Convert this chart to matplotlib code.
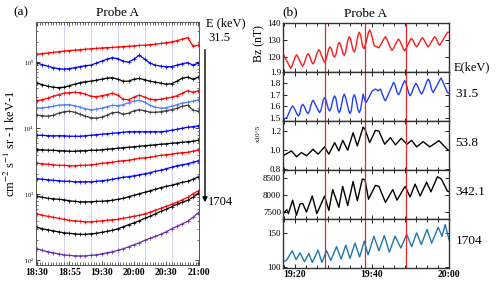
import matplotlib
matplotlib.use("Agg")
import matplotlib.pyplot as plt
import numpy as np
from matplotlib.ticker import MultipleLocator, FixedLocator, LogLocator, NullFormatter

plt.rcParams['font.family'] = ['Liberation Serif', 'DejaVu Serif']
plt.rcParams['mathtext.fontset'] = 'stix'

# ---------------- panel (a): fluxes, minutes after 18:30 ----------------
minutes_a = [0, 5, 10, 15, 20, 25, 30, 35, 40, 45, 50, 55, 60, 65, 70, 75,
             80, 85, 90, 95, 100, 105, 110, 115, 120, 125, 130, 135, 140, 145, 150]
a_tick_pos = [0, 30, 60, 90, 120, 150]
a_tick_lab = ['18:30', '18:55', '19:30', '20:00', '20:30', '21:00']
a_grid_pos = [25, 50, 75, 100, 125]

# log10 of flux for each energy channel (top = lowest energy)
log_flux = [
    [5.121, 5.130, 5.139, 5.148, 5.158, 5.167, 5.176, 5.182, 5.189, 5.197, 5.203,
     5.209, 5.215, 5.220, 5.224, 5.229, 5.235, 5.241, 5.247, 5.253, 5.258, 5.265,
     5.273, 5.283, 5.294, 5.306, 5.326, 5.348, 5.371, 5.242, 5.258],
    [4.985, 4.962, 4.939, 4.917, 4.902, 4.894, 4.902, 4.917, 4.932, 4.947, 4.955,
     4.985, 5.015, 5.045, 5.068, 5.053, 5.015, 5.000, 5.045, 5.106, 5.045, 4.985,
     4.955, 4.939, 4.932, 4.932, 4.955, 4.977, 4.992, 4.955, 4.985],
    [4.682, 4.659, 4.636, 4.621, 4.614, 4.621, 4.644, 4.667, 4.689, 4.705, 4.712,
     4.727, 4.742, 4.758, 4.765, 4.742, 4.712, 4.712, 4.742, 4.753, 4.735, 4.712,
     4.697, 4.682, 4.667, 4.674, 4.712, 4.758, 4.773, 4.742, 4.773],
    [4.417, 4.432, 4.455, 4.485, 4.508, 4.530, 4.538, 4.545, 4.538, 4.515, 4.485,
     4.477, 4.492, 4.508, 4.530, 4.500, 4.439, 4.432, 4.470, 4.500, 4.470, 4.439,
     4.432, 4.439, 4.455, 4.470, 4.492, 4.530, 4.568, 4.545, 4.568],
    [4.303, 4.311, 4.318, 4.333, 4.348, 4.356, 4.356, 4.341, 4.318, 4.295, 4.280,
     4.288, 4.303, 4.326, 4.348, 4.341, 4.356, 4.386, 4.409, 4.424, 4.394, 4.348,
     4.318, 4.303, 4.311, 4.333, 4.356, 4.379, 4.394, 4.409, 4.432],
    [4.197, 4.189, 4.182, 4.197, 4.227, 4.250, 4.258, 4.242, 4.212, 4.182, 4.159,
     4.152, 4.167, 4.197, 4.235, 4.242, 4.212, 4.227, 4.265, 4.280, 4.265, 4.242,
     4.242, 4.250, 4.265, 4.280, 4.303, 4.333, 4.348, 4.273, 4.258],
    [3.894, 3.894, 3.886, 3.886, 3.886, 3.886, 3.879, 3.879, 3.879, 3.886, 3.894,
     3.902, 3.909, 3.917, 3.924, 3.932, 3.939, 3.947, 3.947, 3.947, 3.947, 3.947,
     3.947, 3.947, 3.955, 3.970, 3.985, 4.000, 4.015, 4.023, 4.038],
    [3.674, 3.674, 3.667, 3.667, 3.659, 3.659, 3.652, 3.652, 3.659, 3.659, 3.667,
     3.667, 3.674, 3.682, 3.689, 3.697, 3.705, 3.712, 3.720, 3.727, 3.735, 3.742,
     3.750, 3.758, 3.765, 3.773, 3.780, 3.788, 3.795, 3.803, 3.818],
    [3.470, 3.462, 3.455, 3.447, 3.439, 3.439, 3.432, 3.432, 3.439, 3.439, 3.447,
     3.455, 3.470, 3.477, 3.485, 3.500, 3.508, 3.515, 3.530, 3.545, 3.553, 3.561,
     3.576, 3.591, 3.598, 3.606, 3.621, 3.629, 3.636, 3.652, 3.674],
    [3.235, 3.227, 3.220, 3.212, 3.205, 3.197, 3.197, 3.189, 3.189, 3.189, 3.189,
     3.197, 3.205, 3.212, 3.227, 3.242, 3.258, 3.265, 3.280, 3.295, 3.311, 3.326,
     3.348, 3.364, 3.386, 3.409, 3.432, 3.447, 3.462, 3.485, 3.508],
    [2.970, 2.955, 2.939, 2.932, 2.924, 2.917, 2.902, 2.894, 2.886, 2.886, 2.886,
     2.894, 2.894, 2.902, 2.909, 2.924, 2.939, 2.962, 2.985, 3.008, 3.030, 3.053,
     3.076, 3.099, 3.121, 3.136, 3.159, 3.182, 3.197, 3.227, 3.265],
    [2.705, 2.682, 2.667, 2.652, 2.636, 2.621, 2.606, 2.598, 2.591, 2.583, 2.583,
     2.591, 2.598, 2.606, 2.614, 2.621, 2.636, 2.652, 2.667, 2.682, 2.705, 2.727,
     2.758, 2.788, 2.818, 2.848, 2.879, 2.917, 2.955, 3.008, 3.053],
    [2.500, 2.477, 2.462, 2.447, 2.432, 2.417, 2.409, 2.402, 2.394, 2.394, 2.402,
     2.409, 2.424, 2.439, 2.455, 2.477, 2.508, 2.538, 2.568, 2.598, 2.636, 2.667,
     2.705, 2.742, 2.773, 2.811, 2.848, 2.879, 2.909, 2.955, 3.015],
    [2.174, 2.152, 2.129, 2.114, 2.098, 2.083, 2.076, 2.068, 2.068, 2.068, 2.076,
     2.083, 2.098, 2.114, 2.129, 2.152, 2.174, 2.205, 2.235, 2.265, 2.303, 2.333,
     2.364, 2.394, 2.432, 2.477, 2.515, 2.553, 2.591, 2.652, 2.720],
]
line_colors = ['#ff0000', '#0000ff', '#000000', '#ff0000', '#4f7dff', '#3c3c3c',
               '#0000ff', '#000000', '#ff0000', '#0000ff', '#000000', '#ff0000',
               '#000000', '#6a2bb0']

# ---------------- panel (b): minutes after 19:00 ----------------
t_bz = [16.9, 18.55, 18.9, 19.25, 20.05, 20.4, 20.75, 21.65, 22.0, 22.35, 23.05, 23.4,
        23.75, 24.35, 24.7, 25.05, 25.85, 26.2, 26.55, 27.35, 27.7, 28.05, 28.75, 29.1,
        29.45, 29.95, 30.3, 30.65, 31.15, 31.5, 31.85, 32.45, 32.8, 33.15, 33.75, 34.1,
        34.45, 35.05, 35.4, 35.75, 36.35, 36.7, 37.05, 37.55, 37.9, 38.25, 39.05, 39.4,
        39.75, 40.6, 41.8, 43.15, 43.5, 43.85, 44.85, 45.2, 45.55, 46.55, 46.9, 47.25,
        48.15, 48.5, 48.85, 49.85, 50.2, 50.55, 51.25, 51.6, 51.95, 52.75, 53.1, 53.45,
        54.25, 54.6, 54.95, 55.95, 56.3, 56.65, 57.25, 57.6, 57.95, 59.6, 60.0]
bz = [121.8, 114.7, 113.2, 114.6, 119.8, 121.2, 120.0, 115.6, 114.4, 115.7, 120.5, 121.8,
      120.8, 116.8, 115.8, 117.2, 122.8, 124.2, 123.0, 118.1, 116.8, 118.3, 124.4, 125.9,
      124.9, 120.8, 119.8, 121.3, 127.0, 128.5, 127.2, 122.1, 120.8, 122.7, 130.0, 131.9,
      130.4, 124.3, 122.8, 124.8, 132.5, 134.5, 132.9, 126.4, 124.8, 126.7, 134.0, 135.9,
      134.3, 126.5, 125.3, 130.8, 131.9, 130.5, 125.2, 123.8, 124.9, 129.4, 130.5, 129.3,
      124.7, 123.5, 124.8, 129.6, 130.9, 130.1, 126.8, 125.9, 126.8, 130.4, 131.3, 130.4,
      126.8, 125.9, 126.9, 130.9, 131.9, 131.1, 127.7, 126.9, 128.2, 134.5, 134.5]

t_31 = [16.9, 17.9, 19.05, 19.4, 19.75, 20.55, 20.9, 21.25, 21.65, 22.0, 22.35, 23.05,
        23.4, 23.75, 24.35, 24.7, 25.05, 26.05, 26.4, 26.75, 27.35, 27.7, 28.05, 28.65,
        29.0, 29.35, 29.95, 30.3, 30.65, 31.15, 31.5, 31.85, 32.45, 32.8, 33.15, 33.95,
        34.3, 34.65, 35.05, 35.4, 35.75, 36.35, 36.7, 37.05, 37.7, 38.2, 38.5, 40.1,
        40.9, 41.6, 42.2, 43.15, 43.5, 43.85, 45.25, 45.6, 45.95, 46.55, 46.9, 47.25,
        48.15, 48.5, 48.85, 49.55, 49.9, 50.25, 51.05, 51.4, 51.75, 52.55, 52.9, 53.25,
        54.25, 54.6, 54.95, 55.55, 55.9, 56.25, 57.55, 57.9, 58.25, 59.6, 60.0]
f31 = [1.484, 1.499, 1.587, 1.602, 1.587, 1.529, 1.514, 1.532, 1.600, 1.617, 1.603, 1.549,
       1.535, 1.555, 1.632, 1.652, 1.633, 1.562, 1.543, 1.566, 1.653, 1.676, 1.656, 1.578,
       1.558, 1.581, 1.668, 1.691, 1.666, 1.568, 1.543, 1.571, 1.678, 1.706, 1.677, 1.564,
       1.535, 1.563, 1.672, 1.700, 1.673, 1.570, 1.543, 1.571, 1.706, 1.647, 1.632, 1.735,
       1.750, 1.735, 1.750, 1.665, 1.647, 1.674, 1.781, 1.809, 1.790, 1.719, 1.700, 1.721,
       1.803, 1.824, 1.801, 1.714, 1.691, 1.710, 1.781, 1.800, 1.784, 1.722, 1.706, 1.728,
       1.816, 1.838, 1.818, 1.740, 1.720, 1.742, 1.825, 1.847, 1.825, 1.720, 1.715]

t_53 = [16.9, 19.1, 20.4, 21.7, 23.0, 24.7, 26.0, 27.7, 28.8, 30.3, 31.4, 32.4, 33.7,
        35.1, 36.2, 37.7, 38.2, 39.4, 40.9, 41.8, 43.3, 44.8, 46.1, 47.6, 49.1, 50.3,
        51.6, 53.3, 55.0, 57.4, 59.6, 60.0]
f53 = [0.934, 0.986, 0.924, 0.969, 0.934, 1.003, 0.951, 1.028, 0.951, 1.073, 0.986,
       1.097, 0.993, 1.177, 1.038, 1.236, 1.212, 1.073, 1.201, 1.194, 1.056, 1.125,
       1.049, 1.118, 1.056, 1.097, 1.028, 1.083, 1.028, 1.094, 1.000, 0.990]

t_342 = [16.9, 17.9, 18.3, 19.4, 20.4, 21.3, 22.0, 23.0, 24.5, 25.7, 27.7, 28.8, 29.8,
         31.4, 32.4, 33.7, 35.1, 36.2, 37.5, 38.2, 39.1, 40.9, 41.8, 43.5, 45.4, 46.5,
         48.6, 49.9, 51.2, 52.5, 54.2, 55.3, 57.0, 58.0, 59.6, 60.0]
f342 = [7457, 7569, 7457, 7850, 7410, 7738, 7756, 7503, 7972, 7457, 7972, 7550, 8159,
        7644, 8253, 7691, 8394, 7831, 8469, 8440, 7878, 8281, 8253, 7785, 8159, 7850,
        8253, 7944, 8319, 7972, 8375, 8094, 8534, 8469, 8112, 8100]

t_1704 = [16.9, 17.8, 19.3, 20.3, 21.3, 22.5, 23.6, 24.5, 26.0, 27.0, 28.2, 29.3, 30.8,
          32.0, 33.2, 34.3, 35.6, 36.8, 38.0, 39.0, 40.5, 41.8, 43.2, 44.5, 46.0, 47.5,
          49.0, 50.3, 51.6, 52.8, 54.3, 55.5, 57.2, 58.2, 59.0, 60.0]
f1704 = [108, 110, 124, 111, 121, 108, 120, 107, 125, 107, 124, 110, 130, 112, 132, 113,
         135, 115, 138, 118, 145, 124, 146, 122, 145, 128, 148, 130, 150, 133, 155, 135,
         158, 145, 162, 140]

event_times = [27.7, 38.2, 48.9]
b_series = [(t_bz, bz, '#ff1a1a', (111, 140), [120, 130, 140], '{:.0f}'),
            (t_31, f31, '#1f3fff', (1.47, 1.90), [1.5, 1.6, 1.7, 1.8, 1.9], '{:.1f}'),
            (t_53, f53, '#000000', (0.785, 1.30), [0.8, 1.0, 1.2], '{:.1f}'),
            (t_342, f342, '#000000', (7300, 8730), [7500, 8000, 8500], '{:.0f}'),
            (t_1704, f1704, '#2277aa', (99, 170), [100, 150], '{:.0f}')]
b_labels = ['', '31.5', '53.8', '342.1', '1704']

fig = plt.figure(figsize=(5, 2.84), dpi=100)

# ---- panel (a)
ax = fig.add_axes([0.072, 0.067, 0.326, 0.856])
for vals, c in zip(log_flux, line_colors):
    ax.plot(minutes_a, 10 ** np.array(vals), color=c, lw=0.9, marker='+',
            ms=2.2, mew=0.5)
for g in a_grid_pos:
    ax.axvline(g, color='#c9c9f2', lw=0.6, zorder=0)
ax.set_yscale('log')
ax.set_ylim(10 ** 1.93, 10 ** 5.61)
ax.set_xlim(-1, 150.5)
ax.set_xticks(a_tick_pos)
ax.set_xticklabels(a_tick_lab, fontsize=7, fontweight='bold')
ax.xaxis.set_minor_locator(MultipleLocator(2.5))
ax.yaxis.set_major_locator(LogLocator(base=10, numticks=10))
ax.yaxis.set_minor_locator(LogLocator(base=10, subs=np.arange(2, 10), numticks=10))
ax.yaxis.set_minor_formatter(NullFormatter())
ax.tick_params(axis='y', which='major', labelsize=4.5, direction='in', length=3,
               width=0.5, right=True, pad=1.5)
ax.tick_params(axis='y', which='minor', direction='in', length=1.5, width=0.4, right=True)
ax.tick_params(axis='x', which='major', direction='in', length=3, width=0.5, top=True, pad=2)
ax.tick_params(axis='x', which='minor', direction='in', length=2, width=0.4, top=True)
for s in ax.spines.values():
    s.set_color('#555555')
    s.set_linewidth(0.7)
ax.set_ylabel('cm$^{-2}$ s$^{-1}$ sr -1 keV-1', fontsize=9, labelpad=4)
ax.set_title('Probe A', fontsize=9.5, pad=4)
fig.text(0.026, 0.955, '(a)', fontsize=9.5, ha='left', va='center')
fig.text(0.413, 0.919, 'E (keV)', fontsize=9, ha='left', va='center')
fig.text(0.416, 0.866, '31.5', fontsize=9, ha='left', va='center')
fig.text(0.416, 0.289, '1704', fontsize=9, ha='left', va='center')
fig.add_artist(matplotlib.patches.FancyArrowPatch(
    (0.410, 0.835), (0.410, 0.278), transform=fig.transFigure,
    arrowstyle='-|>', mutation_scale=7, lw=1.0, color='black'))

# ---- panel (b)
row_h = 49 / 284
axes_b = []
for i, (tt, vv, c, ylim, yt, fmt) in enumerate(b_series):
    bottom = 1 - (23 + 49 * (i + 1)) / 284
    axb = fig.add_axes([0.566, bottom, 0.332, row_h])
    axb.plot(tt, vv, color=c, lw=1.0, solid_joinstyle='round')
    for et in event_times:
        axb.axvline(et, color='#e02828', lw=0.9)
    axb.set_xlim(16.9, 60)
    axb.set_ylim(*ylim)
    axb.set_yticks(yt)
    axb.set_yticklabels([fmt.format(v) for v in yt], fontsize=6.5)
    axb.xaxis.set_major_locator(FixedLocator([20, 40, 60]))
    axb.xaxis.set_minor_locator(MultipleLocator(20 / 7))
    axb.tick_params(axis='both', which='major', direction='in', length=3, width=0.6,
                    top=True, right=True, pad=1.5)
    axb.tick_params(axis='x', which='minor', direction='in', length=2.5, width=0.6,
                    top=True)
    for s in axb.spines.values():
        s.set_linewidth(1.0)
        s.set_color('#333333')
    if i < 4:
        axb.set_xticklabels([])
    else:
        axb.set_xticklabels(['19:20', '19:40', '20:00'], fontsize=7, fontweight='bold')
    if b_labels[i]:
        axb.text(1.04, 0.55, b_labels[i], transform=axb.transAxes, fontsize=9.5,
                 ha='left', va='center')
    axes_b.append(axb)

axes_b[0].set_title('Probe A', fontsize=9.5, pad=4)
fig.text(0.564, 0.955, '(b)', fontsize=9.5, ha='left', va='center')
fig.text(0.519, 0.845, 'Bz (nT)', fontsize=8.5, rotation=90, ha='center', va='center')
fig.text(0.516, 0.53, 'x10^5', fontsize=5, rotation=90, ha='center', va='center')
fig.text(0.908, 0.762, 'E(keV)', fontsize=9, ha='left', va='center')

fig.savefig('out.png', dpi=100)
